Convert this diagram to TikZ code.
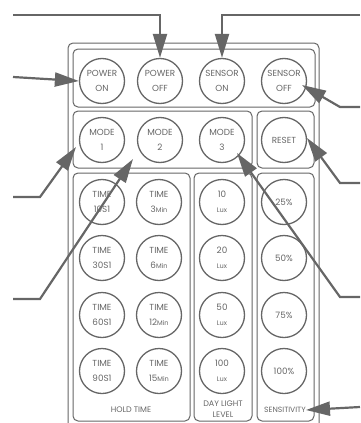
\documentclass[tikz,border=0pt]{standalone}
\usepackage{fontspec}
\setmainfont{Poppins}
\usetikzlibrary{arrows.meta}
\definecolor{ln}{HTML}{666666}
\definecolor{tx}{HTML}{666666}
\tikzset{
  panel/.style={draw=ln, line width=1pt, rounded corners=5pt},
  btn/.style={circle, draw=ln, line width=1.3pt, minimum size=45pt, inner sep=0pt, align=center, text=tx, font=\fontsize{8.8}{15}\selectfont},
  lbl/.style={text=tx, align=center, inner sep=0pt, font=\fontsize{8}{11.5}\selectfont},
  arr/.style={draw=ln, line width=2.2pt, -{Triangle[length=24pt,width=14pt,fill=ln]}},
}
\newcommand{\sm}[1]{{\fontsize{6.6}{15}\selectfont #1}}
\begin{document}
\begin{tikzpicture}[x=1pt,y=-1pt]
\useasboundingbox (0,0) rectangle (360,423);
% outer frame (open at bottom)
\draw[panel] (68,430) -- (68,43) -- (319,43) -- (319,430);
% panels
\draw[panel] (73,49) rectangle (315,107);
\draw[panel] (73,111) rectangle (252,168);
\draw[panel] (257,111) rectangle (314,168);
\draw[panel] (73,173) rectangle (190,421);
\draw[panel] (194,173) rectangle (252,421);
\draw[panel] (257,173) rectangle (314,421);
% row 1
\node[btn] (pon) at (102,81) {POWER\\ON};
\node[btn] (poff) at (160,81) {POWER\\OFF};
\node[btn] (son) at (222,81) {SENSOR\\ON};
\node[btn] (soff) at (284,81) {SENSOR\\OFF};
% row 2
\node[btn] (m1) at (102,140) {MODE\\1};
\node[btn] (m2) at (160,140) {MODE\\2};
\node[btn] (m3) at (222,140) {MODE\\3};
\node[btn] (rst) at (284,140) {RESET};
% hold time
\node[btn] (t1) at (102,202) {TIME\\10S1};
\node[btn] (t2) at (159,202) {TIME\\3\sm{Min}};
\node[btn] (t3) at (102,258) {TIME\\30S1};
\node[btn] (t4) at (159,258) {TIME\\6\sm{Min}};
\node[btn] (t5) at (102,315) {TIME\\60S1};
\node[btn] (t6) at (159,315) {TIME\\12\sm{Min}};
\node[btn] (t7) at (102,371) {TIME\\90S1};
\node[btn] (t8) at (159,371) {TIME\\15\sm{Min}};
% day light
\node[btn] (d1) at (222,202) {10\\\sm{Lux}};
\node[btn] (d2) at (222,258) {20\\\sm{Lux}};
\node[btn] (d3) at (222,315) {50\\\sm{Lux}};
\node[btn] (d4) at (222,371) {100\\\sm{Lux}};
% sensitivity
\node[btn] (s1) at (284,202) {25\%};
\node[btn] (s2) at (284,258) {50\%};
\node[btn] (s3) at (284,315) {75\%};
\node[btn] (s4) at (284,371) {100\%};
% labels
\node[lbl] (lh) at (131,410) {HOLD TIME};
\node[lbl] (ld) at (223,409) {DAY LIGHT\\LEVEL};
\node[lbl, font=\fontsize{7.6}{11}\selectfont] (ls) at (285,410) {SENSITIVITY};
% arrow ends
\coordinate (e1) at (13,15);
\coordinate (e2) at (360,15);
\coordinate (e3) at (13,77);
\coordinate (e4) at (360,107);
\coordinate (e5) at (360,183);
\coordinate (e6) at (360,297);
\coordinate (e7) at (13,197);
\coordinate (e8) at (13,299);
\coordinate (e9) at (360,407);
\coordinate (k4) at (340,107);
\coordinate (k5) at (340,183);
\coordinate (k6) at (340,297);
\coordinate (k7) at (40,197);
\coordinate (k8) at (40,299);
\coordinate (p4) at (302,85);
\coordinate (p5) at (307,138);
\coordinate (p6) at (237,153);
\coordinate (p7) at (76,147);
\coordinate (p8) at (133,159);
% arrows
\draw[arr] (e1) -| (poff.north);
\draw[arr] (e2) -| (son.north);
\draw[arr] (e3) -- (pon.west);
\draw[arr] (e4) -- (k4) -- (p4);
\draw[arr] (e5) -- (k5) -- (p5);
\draw[arr] (e6) -- (k6) -- (p6);
\draw[arr] (e7) -- (k7) -- (p7);
\draw[arr] (e8) -- (k8) -- (p8);
\draw[arr] (e9) -- (ls.east);
\end{tikzpicture}
\end{document}
